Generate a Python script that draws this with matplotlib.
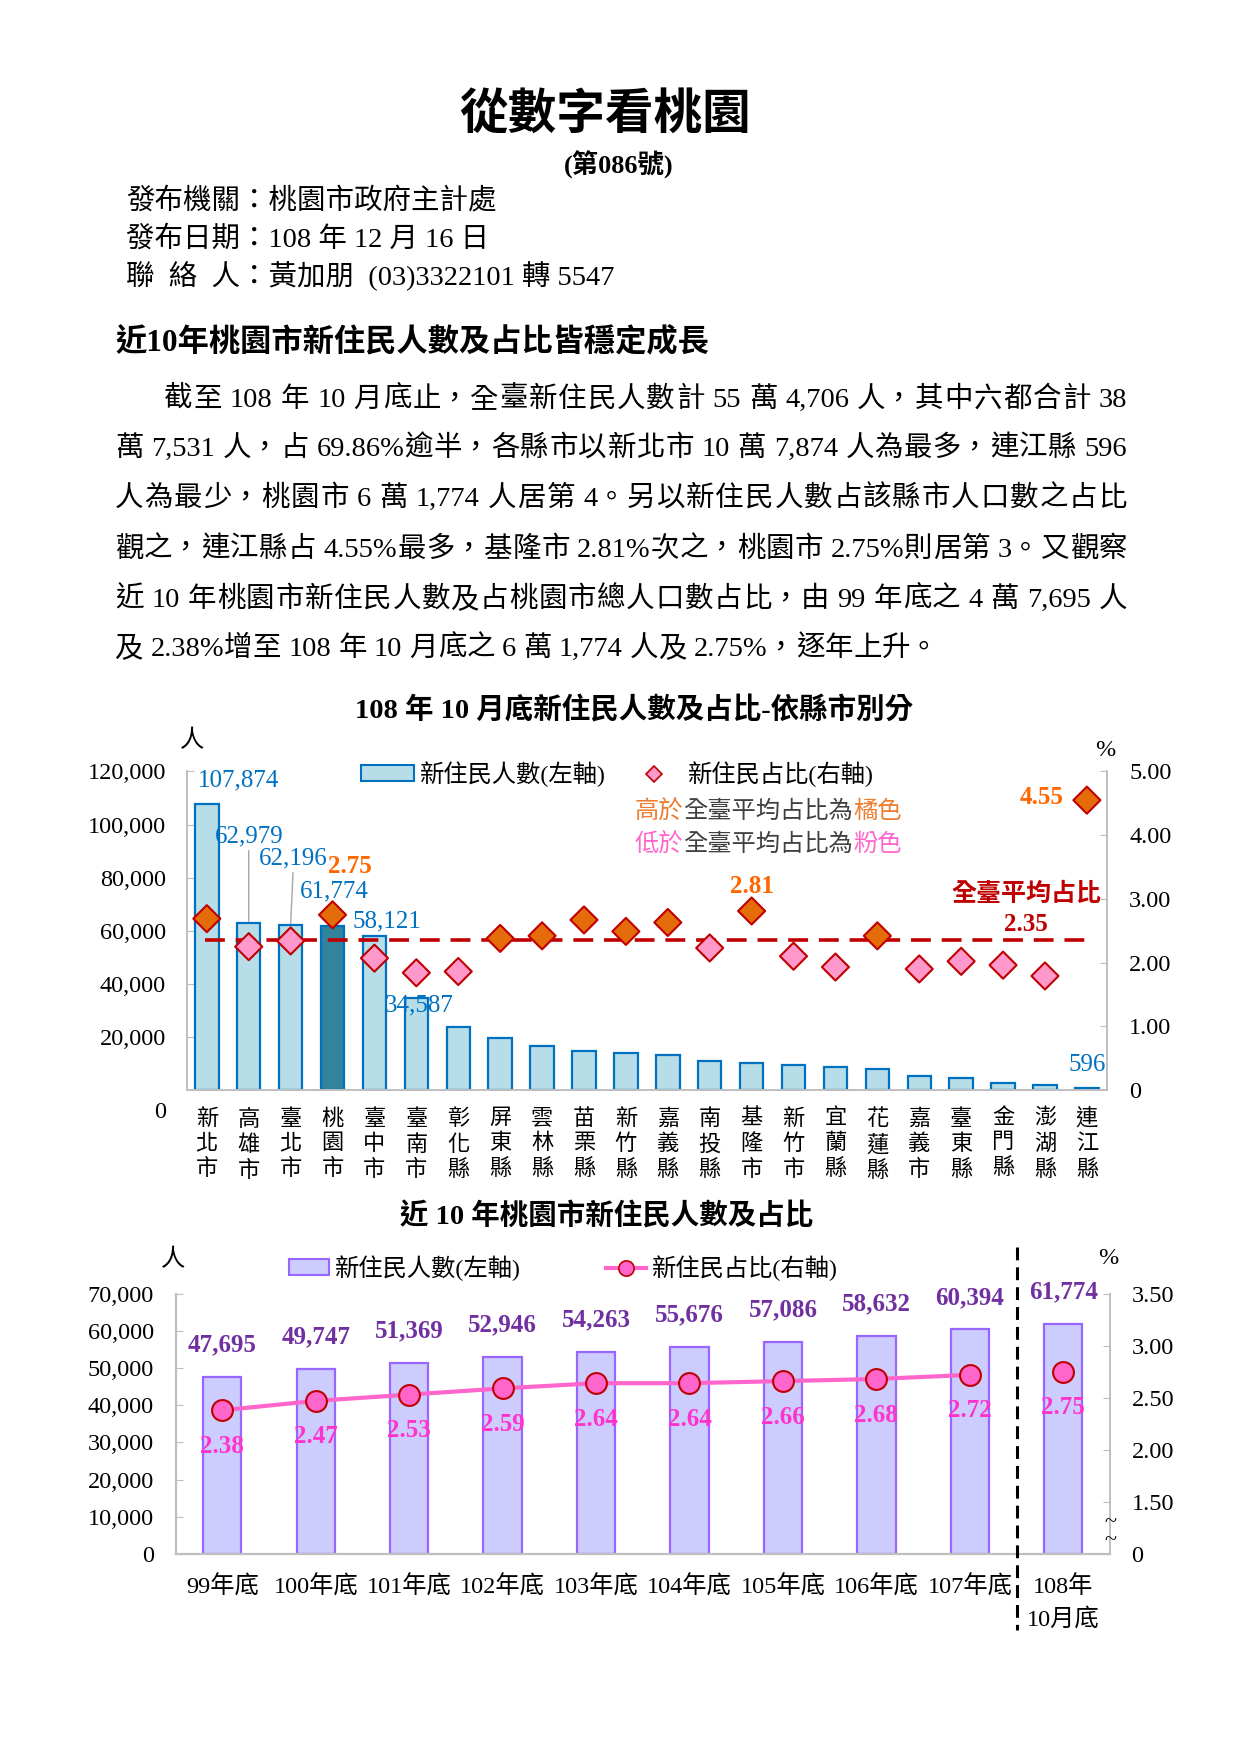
import re
import matplotlib
matplotlib.use('Agg')
import matplotlib.pyplot as plt
from matplotlib.patches import Patch
from matplotlib.lines import Line2D
from matplotlib.ticker import FuncFormatter
import numpy as np

plt.rcParams['font.family'] = ['Liberation Serif', 'Noto Sans CJK TC']
plt.rcParams['axes.unicode_minus'] = False

W, H = 1240, 1754

# 108年10月底 各縣市新住民人數及占比
counties = ['新北市', '高雄市', '臺北市', '桃園市', '臺中市', '臺南市', '彰化縣',
            '屏東縣', '雲林縣', '苗栗縣', '新竹縣', '嘉義縣', '南投縣', '基隆市',
            '新竹市', '宜蘭縣', '花蓮縣', '嘉義市', '臺東縣', '金門縣', '澎湖縣', '連江縣']
county_people = [107874, 62979, 62196, 61774, 58121, 34587, 23700, 19600, 16500,
                 14600, 14000, 13300, 11100, 10300, 9400, 8800, 7900, 5100, 4400,
                 2800, 1900, 596]
county_pct = [2.69, 2.25, 2.34, 2.75, 2.07, 1.84, 1.86, 2.38, 2.42, 2.67, 2.49,
              2.63, 2.23, 2.81, 2.10, 1.93, 2.42, 1.90, 2.02, 1.96, 1.79, 4.55]
taiwan_avg = 2.35

# 近10年桃園市
years = ['99年底', '100年底', '101年底', '102年底', '103年底', '104年底',
         '105年底', '106年底', '107年底', '108年\n10月底']
ty_people = [47695, 49747, 51369, 52946, 54263, 55676, 57086, 58632, 60394, 61774]
ty_pct = [2.38, 2.47, 2.53, 2.59, 2.64, 2.64, 2.66, 2.68, 2.72, 2.75]

para = [
    '截至 108 年 10 月底止，全臺新住民人數計 55 萬 4,706 人，其中六都合計 38',
    '萬 7,531 人，占 69.86%逾半，各縣市以新北市 10 萬 7,874 人為最多，連江縣 596',
    '人為最少，桃園市 6 萬 1,774 人居第 4。另以新住民人數占該縣市人口數之占比',
    '觀之，連江縣占 4.55%最多，基隆市 2.81%次之，桃園市 2.75%則居第 3。又觀察',
    '近 10 年桃園市新住民人數及占桃園市總人口數占比，由 99 年底之 4 萬 7,695 人',
    '及 2.38%增至 108 年 10 月底之 6 萬 1,774 人及 2.75%，逐年上升。',
]

GRAY = '#BFBFBF'
LATIN = re.compile(r'[0-9A-Za-z.,%()]')


def fx(x):
    return x / W


def fy(y):
    return 1 - y / H


fig = plt.figure(figsize=(W / 100, H / 100), dpi=100)
renderer = fig.canvas.get_renderer()


def ink_w(s, size):
    t = fig.text(0, 0, s, fontsize=size)
    w = t.get_window_extent(renderer).width
    t.remove()
    return w


def nat_pos(s, k, size):
    # left edge of char k, measured from the left edge of the whole string
    if k == 0:
        return 0.0
    return ink_w(s[:k + 1], size) - ink_w(s[k], size)


def split_tokens(s):
    out = []
    i = 0
    while i < len(s):
        if s[i] == ' ':
            i += 1
            continue
        j = i + 1
        if LATIN.match(s[i]):
            while j < len(s) and LATIN.match(s[j]):
                j += 1
        while j < len(s) and s[j] in '，。、':
            j += 1
        out.append((i, s[i:j]))
        i = j
    return out


def put_line(s, x0, x1, yc, size, justify=True):
    em = size * 100 / 72
    toks = split_tokens(s)
    extra = 0.0
    if justify and len(toks) > 1:
        extra = (x1 - x0 - ink_w(s, size)) / (len(toks) - 1)
    for n, (k, tok) in enumerate(toks):
        fig.text(fx(x0 + nat_pos(s, k, size) + n * extra), fy(yc + 0.38 * em), tok,
                 fontsize=size, ha='left', va='baseline')


def put_runs(parts, x0, yc, size):
    em = size * 100 / 72
    full = ''.join(p for p, _ in parts)
    k = 0
    for p, c in parts:
        fig.text(fx(x0 + nat_pos(full, k, size)), fy(yc + 0.38 * em), p,
                 fontsize=size, ha='left', va='baseline', color=c)
        k += len(p)


# ---------- page header ----------
fig.text(fx(605), fy(116), '從數字看桃園', ha='center', va='center',
         fontsize=35, fontweight='bold')
fig.text(fx(619), fy(165), '(第086號)', ha='center', va='center',
         fontsize=19, fontweight='bold')
for y, s in [(201, '發布機關：桃園市政府主計處'),
             (239, '發布日期：108 年 12 月 16 日'),
             (276, '聯  絡  人：黃加朋  (03)3322101 轉 5547')]:
    fig.text(fx(126), fy(y), s, ha='left', va='center', fontsize=20.5)

fig.text(fx(115), fy(343), '近10年桃園市新住民人數及占比皆穩定成長',
         ha='left', va='center', fontsize=22.5, fontweight='bold')

line_y = [396, 445, 495, 546, 596, 645]
for i, (s, y) in enumerate(zip(para, line_y)):
    put_line(s, 164 if i == 0 else 115, 1127, y, 20.5, justify=i < len(para) - 1)

# ---------- chart 1 ----------
fig.text(fx(634), fy(711), '108 年 10 月底新住民人數及占比-依縣市別分',
         ha='center', va='center', fontsize=20.5, fontweight='bold')
fig.text(fx(192), fy(741), '人', ha='center', va='center', fontsize=17.5)
fig.text(fx(1105), fy(750), '%', ha='center', va='center', fontsize=17.5)

ax1 = fig.add_axes([fx(186.7), fy(1090), (1107 - 186.7) / W, (1090 - 771.5) / H])
x = np.arange(len(counties))
bar_colors = ['#31849B' if c == '桃園市' else '#B7DEE8' for c in counties]
ax1.bar(x, county_people, width=0.56, color=bar_colors, edgecolor='#0070C0',
        linewidth=1.6, zorder=2)
ax1.set_xlim(-0.48, len(counties) - 0.52)
ax1.set_ylim(0, 120000)
ax1.set_yticks(range(0, 120001, 20000))
ax1.yaxis.set_major_formatter(FuncFormatter(lambda v, p: f'{v:,.0f}' if v else ''))
ax1.set_xticks(x)
ax1.set_xticklabels(['\n'.join(c) for c in counties], fontsize=16, linespacing=1.3)
ax1.tick_params(axis='x', length=0, pad=14)
ax1.tick_params(axis='y', direction='in', length=5, color=GRAY, labelsize=17.5, pad=15)
ax1.spines['top'].set_visible(False)
ax1.spines['right'].set_visible(False)
for s in ['left', 'bottom']:
    ax1.spines[s].set_color(GRAY)
    ax1.spines[s].set_linewidth(1.4)
ax1.annotate('0', xy=(0, 0), xycoords='axes fraction', xytext=(-21, -22),
             textcoords='offset pixels', ha='right', va='center', fontsize=17.5)

# labels on bars: index -> (dx, dy, leader)
people_lbl = {0: (32, 23, False), 1: (0, 86, True), 2: (3, 66, True),
              3: (2, 35, True), 4: (12, 14, False), 5: (3, -7, False),
              21: (0, 23, False)}
for i, (dx, dy, lead) in people_lbl.items():
    kw = {}
    if lead:
        kw['arrowprops'] = dict(arrowstyle='-', color='#A6A6A6', lw=1,
                                shrinkA=0, shrinkB=1)
    ax1.annotate(f'{county_people[i]:,}', xy=(i, county_people[i]),
                 xytext=(dx, dy), textcoords='offset pixels', ha='center',
                 va='center', fontsize=18, color='#0070C0', zorder=5, **kw)

ax1r = ax1.twinx()
ax1r.set_ylim(0, 5)
ax1r.set_yticks(range(0, 6))
ax1r.yaxis.set_major_formatter(FuncFormatter(lambda v, p: f'{v:.2f}' if v else '0'))
ax1r.tick_params(axis='y', direction='in', length=5, color=GRAY, labelsize=17.5, pad=16)
for s in ['top', 'left', 'bottom']:
    ax1r.spines[s].set_visible(False)
ax1r.spines['right'].set_color(GRAY)
ax1r.spines['right'].set_linewidth(1.4)

ax1r.plot([-0.05, len(counties) - 0.95], [taiwan_avg, taiwan_avg], color='#C00000',
          lw=2.6, ls=(0, (5.5, 3)), zorder=2)
dia_colors = ['#E46C0A' if p > taiwan_avg else '#FF99CC' for p in county_pct]
ax1r.scatter(x, county_pct, marker='D', s=190, c=dia_colors, edgecolors='#C00000',
             linewidths=1.5, zorder=3)

pct_lbl = {3: (17, 48), 13: (0, 25), 21: (-45, 3)}
for i, (dx, dy) in pct_lbl.items():
    ax1r.annotate(f'{county_pct[i]:.2f}', xy=(i, county_pct[i]), xytext=(dx, dy),
                  textcoords='offset pixels', ha='center', va='center',
                  fontsize=18, fontweight='bold', color='#FF6600', zorder=5)
ax1r.annotate('全臺平均占比', xy=(19.55, taiwan_avg), xytext=(0, 46),
              textcoords='offset pixels', ha='center', va='center', fontsize=18,
              fontweight='bold', color='#C00000')
ax1r.annotate(f'{taiwan_avg:.2f}', xy=(19.55, taiwan_avg), xytext=(0, 16),
              textcoords='offset pixels', ha='center', va='center', fontsize=18,
              fontweight='bold', color='#C00000')

h1 = [Patch(facecolor='#B7DEE8', edgecolor='#0070C0', linewidth=1.5),
      Line2D([], [], ls='none', marker='D', ms=8, mfc='#FF99CC', mec='#C00000', mew=1.2)]
ax1r.legend(h1, ['新住民人數(左軸)', '新住民占比(右軸)'], ncol=2, loc='center left',
            bbox_to_anchor=(fx(361), fy(774)), bbox_transform=fig.transFigure,
            frameon=False, fontsize=17.5, handlelength=2.16, handletextpad=0.28,
            columnspacing=0.9, borderpad=0, borderaxespad=0, handleheight=0.64)

# coloured notes under the legend
put_runs([('高於', '#ED7D31'), ('全臺平均占比為', '#404040'), ('橘色', '#ED7D31')],
         635, 809, 17.5)
put_runs([('低於', '#FF66CC'), ('全臺平均占比為', '#404040'), ('粉色', '#FF66CC')],
         635, 842, 17.5)

# ---------- chart 2 ----------
fig.text(fx(607), fy(1216), '近 10 年桃園市新住民人數及占比', ha='center',
         va='center', fontsize=20.5, fontweight='bold')
fig.text(fx(173), fy(1260), '人', ha='center', va='center', fontsize=17.5)
fig.text(fx(1108), fy(1258), '%', ha='center', va='center', fontsize=17.5)

ax2 = fig.add_axes([fx(175.5), fy(1554), (1110 - 175.5) / W, (1554 - 1293.6) / H])
xx = np.arange(len(years))
ax2.bar(xx, ty_people, width=0.41, color='#CCCCFF', edgecolor='#9966FF',
        linewidth=1.6, zorder=2)
ax2.set_xlim(-0.5, len(years) - 0.5)
ax2.set_ylim(0, 70000)
ax2.set_yticks(range(0, 70001, 10000))
ax2.yaxis.set_major_formatter(FuncFormatter(lambda v, p: f'{v:,.0f}'))
ax2.set_xticks(xx)
ax2.set_xticklabels(years, fontsize=17.5, linespacing=1.55)
ax2.tick_params(axis='x', length=0, pad=15)
ax2.tick_params(axis='y', direction='in', length=5, color=GRAY, labelsize=17.5, pad=15.5)
ax2.spines['top'].set_visible(False)
ax2.spines['right'].set_visible(False)
for s in ['left', 'bottom']:
    ax2.spines[s].set_color(GRAY)
    ax2.spines[s].set_linewidth(1.6)
for i, v in enumerate(ty_people):
    ax2.annotate(f'{v:,}', xy=(i, v), xytext=(0, 32), textcoords='offset pixels',
                 ha='center', va='center', fontsize=18, fontweight='bold',
                 color='#7030A0')

ax2r = ax2.twinx()
ax2r.set_ylim(1.0, 3.5)
ax2r.set_yticks(np.arange(1.0, 3.51, 0.5))
ax2r.yaxis.set_major_formatter(FuncFormatter(lambda v, p: '0' if v < 1.01 else f'{v:.2f}'))
ax2r.tick_params(axis='y', direction='in', length=5, color=GRAY, labelsize=17.5, pad=15.5)
for s in ['top', 'left', 'bottom']:
    ax2r.spines[s].set_visible(False)
ax2r.spines['right'].set_color(GRAY)
ax2r.spines['right'].set_linewidth(1.4)

mk = dict(marker='o', ms=15, mfc='#FF66CC', mec='#C00000', mew=1.5)
ax2r.plot(xx[:-1], ty_pct[:-1], color='#FF66CC', lw=3, zorder=3, **mk)
ax2r.plot(xx[-1:], ty_pct[-1:], ls='none', zorder=3, **mk)
for i, p in enumerate(ty_pct):
    ax2r.annotate(f'{p:.2f}', xy=(i, p), xytext=(0, -36), textcoords='offset pixels',
                  ha='center', va='center', fontsize=18, fontweight='bold',
                  color='#FF33CC', zorder=5)

# axis break marks
for yb in [0.12, 0.05]:
    ax2r.text(1.0, yb, '~', transform=ax2r.transAxes, ha='center', va='center',
              fontsize=16)

# separator between 107 and 108
ax2r.plot([len(years) - 1.5] * 2, [1.18, -0.29], transform=ax2r.get_xaxis_transform(),
          color='black', lw=2.2, ls=(0, (4.2, 2.3)), clip_on=False, zorder=4)

h2 = [Patch(facecolor='#CCCCFF', edgecolor='#9966FF', linewidth=1.5),
      Line2D([], [], color='#FF66CC', lw=3, marker='o', ms=11, mfc='#FF66CC',
             mec='#C00000', mew=1.2)]
ax2r.legend(h2, ['新住民人數(左軸)', '新住民占比(右軸)'], ncol=2, loc='center left',
            bbox_to_anchor=(fx(288.5), fy(1268)), bbox_transform=fig.transFigure,
            frameon=False, fontsize=17.5, handlelength=1.65, handletextpad=0.25,
            columnspacing=3.5, borderpad=0, borderaxespad=0, handleheight=0.64)

fig.savefig('out.png', dpi=100)
